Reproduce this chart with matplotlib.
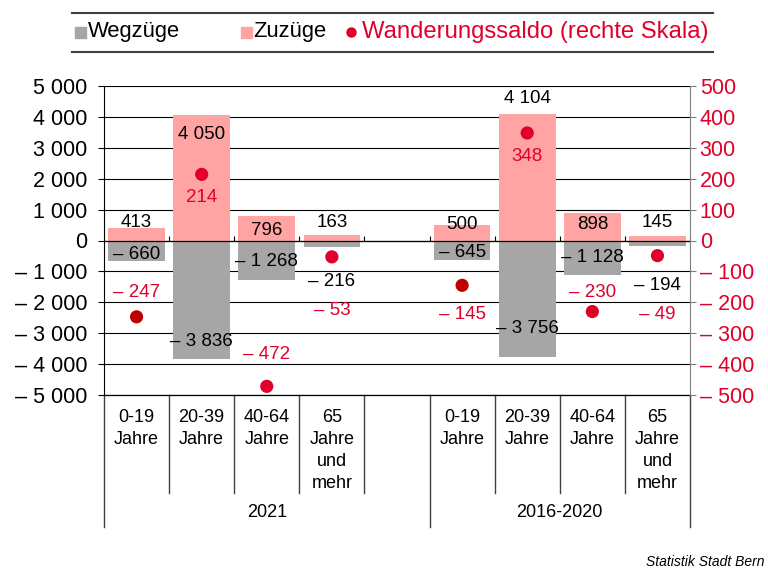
import matplotlib.pyplot as plt
import matplotlib.transforms as mtransforms
from matplotlib.patches import Rectangle
from matplotlib.lines import Line2D
import numpy as np

plt.rcParams['font.family'] = ['Liberation Sans', 'DejaVu Sans']

# Daten
kategorien = ["0-19\nJahre", "20-39\nJahre", "40-64\nJahre", "65\nJahre\nund\nmehr"]
gruppen = ["2021", "2016-2020"]
zuzuege = [413, 4050, 796, 163, 500, 4104, 898, 145]
wegzuege = [-660, -3836, -1268, -216, -645, -3756, -1128, -194]
saldo = [-247, 214, -472, -53, -145, 348, -230, -49]

# Lage der Beschriftungen (in Datenwerten)
zz_lab_y = [583, 3430, 324, 583, 518, 4595, 518, 583]
wz_lab_y = [-453, -3270, -680, -1327, -388, -2848, -550, -1456]
ws_lab_y = [-168, 139, -369, -227, -239, 272, -168, -239]

grau = "#A6A6A6"
rosa = "#FFA3A3"
rot = "#E0002A"
dunkelrot = "#C00000"

def fmt(v):
    s = f"{abs(int(v)):,}".replace(",", " ")
    return "– " + s if v < 0 else s

x = np.array([0, 1, 2, 3, 5, 6, 7, 8])

fig = plt.figure(figsize=(7.68, 5.71), dpi=100)
ax = fig.add_axes([104/768, 1-395/571, 586/768, 309/571])
ax2 = ax.twinx()

ax.set_axisbelow(True)
ax.yaxis.grid(True, color="black", lw=0.8)

ax.bar(x, zuzuege, width=0.87, color=rosa, zorder=2)
ax.bar(x, wegzuege, width=0.87, color=grau, zorder=2)
ax.axhline(0, color="black", lw=0.9, zorder=3)

# kleine Striche auf der Nulllinie
grenzen = np.arange(0.5, 9, 1)
ax.vlines(grenzen, 0, 130, color="black", lw=0.8, zorder=3)

ax.set_xlim(-0.5, 8.5)
ax.set_ylim(-5000, 5000)
ax.set_yticks(range(-5000, 5001, 1000))
ax.set_yticklabels([fmt(v) for v in range(-5000, 5001, 1000)], fontsize=15.5)
ax.set_xticks([])
ax.tick_params(axis="y", length=4, width=0.8, pad=8)

for xi, v, ly in zip(x, zuzuege, zz_lab_y):
    ax.text(xi, ly, fmt(v), ha="center", va="center", fontsize=13.5, zorder=4)
for xi, v, ly in zip(x, wegzuege, wz_lab_y):
    ax.text(xi, ly, fmt(v), ha="center", va="center", fontsize=13.5, zorder=4)

# rechte Skala
farben = [dunkelrot, rot, rot, rot, dunkelrot, rot, rot, rot]
ax2.scatter(x, saldo, s=90, c=farben, zorder=5, linewidths=0)
for xi, v, ly in zip(x, saldo, ws_lab_y):
    ax2.text(xi, ly, fmt(v), ha="center", va="center", fontsize=13.5, color=rot, zorder=5)
ax2.set_ylim(-500, 500)
ax2.set_yticks(range(-500, 501, 100))
ax2.set_yticklabels([fmt(v) for v in range(-500, 501, 100)], fontsize=15.5, color=rot)
ax2.tick_params(axis="y", length=4, width=0.8, pad=3, color="#808080")

for a in (ax, ax2):
    a.spines["top"].set_visible(False)
ax.spines["left"].set_color("black")
ax2.spines["right"].set_color("#808080")
ax2.spines["left"].set_visible(False)
ax.spines["right"].set_visible(False)
ax2.spines["bottom"].set_visible(False)
ax.spines["bottom"].set_linewidth(0.9)

# Kategorienachse
trans = mtransforms.blended_transform_factory(ax.transData, ax.transAxes)
for i, xi in enumerate(x):
    ax.text(xi, -0.045, kategorien[i % 4], transform=trans, ha="center", va="top",
            fontsize=13, linespacing=1.38)
kurz = [0.5, 1.5, 2.5, 3.5, 5.5, 6.5, 7.5]
lang = [-0.5, 4.5, 8.5]
for b in kurz:
    ax.plot([b, b], [0, -0.317], transform=trans, color="#404040", lw=1, clip_on=False)
for b in lang:
    ax.plot([b, b], [0, -0.427], transform=trans, color="#404040", lw=1, clip_on=False)
ax.text(2.0, -0.38, gruppen[0], transform=trans, ha="center", va="center", fontsize=13)
ax.text(6.5, -0.38, gruppen[1], transform=trans, ha="center", va="center", fontsize=13)

# Legende
for yy in (13, 52):
    fig.add_artist(Line2D([72/768, 713/768], [1-yy/571, 1-yy/571], color="#404040", lw=1.5))
fig.add_artist(Rectangle((75/768, 1-38/571), 11/768, 11/571, color=grau))
fig.text(88/768, 1-32/571, "Wegzüge", fontsize=15.8, va="center")
fig.add_artist(Rectangle((241/768, 1-38/571), 11/768, 11/571, color=rosa))
fig.text(253/768, 1-32/571, "Zuzüge", fontsize=15.8, va="center")
fig.add_artist(Line2D([351/768], [1-32/571], marker="o", color=rot, markersize=6.5, lw=0))
fig.text(362/768, 1-32/571, "Wanderungssaldo (rechte Skala)", fontsize=17.2, va="center", color=rot)

fig.text(765/768, 1-562/571, "Statistik Stadt Bern", fontsize=10, style="italic",
         ha="right", va="center")

fig.savefig("out.png", dpi=100)
